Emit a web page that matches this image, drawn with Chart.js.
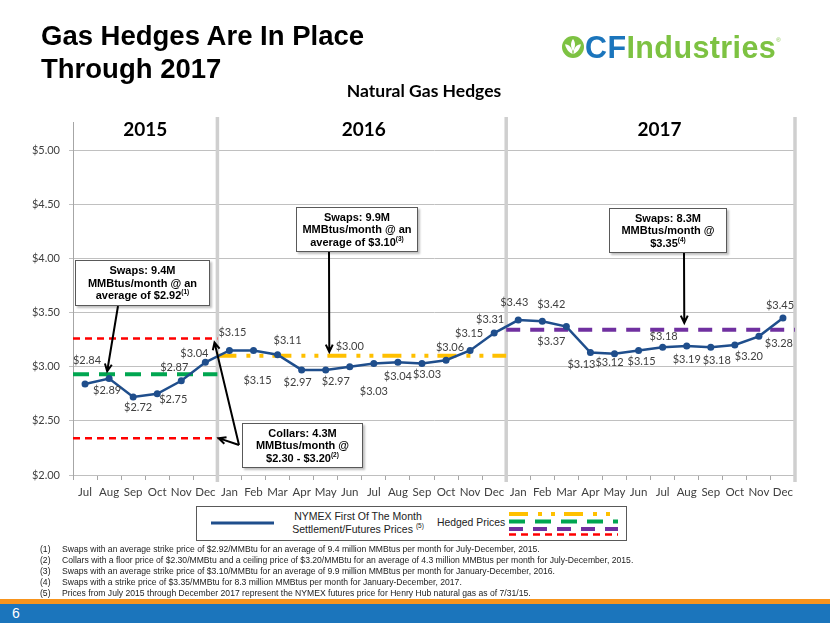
<!DOCTYPE html>
<html>
<head>
<meta charset="utf-8">
<title>Gas Hedges Are In Place Through 2017</title>
<script src="https://cdn.jsdelivr.net/npm/chart.js@4.4.0/dist/chart.umd.min.js"></script>
<style>
html, body { margin: 0; padding: 0; background: #fff; }
#page { position: relative; width: 830px; height: 623px; overflow: hidden; font-family: "Liberation Sans", Arial, sans-serif; }
#chart { position: absolute; left: 0; top: 0; }
.title { position: absolute; left: 41px; top: 19px; font-weight: bold; font-size: 27.5px; line-height: 33px; color: #000; }
#logo { position: absolute; left: 562px; top: 29px; height: 36px; display: flex; align-items: center; font-weight: bold; font-size: 30.5px; letter-spacing: 0.4px; }
#logo svg { margin-right: 1px; }
#logo .cf { color: #1b75bc; }
#logo .ind { color: #7dc242; }
#logo sup { font-size: 6px; color: #7dc242; align-self: flex-start; margin-top: 8px; font-weight: normal; }
.note { position: absolute; background: #fff; border: 1px solid #595959; box-shadow: 2px 2px 2px rgba(0,0,0,0.25); font: bold 11px "Liberation Sans", Arial, sans-serif; line-height: 12.5px; text-align: center; color: #000; display: flex; align-items: center; justify-content: center; box-sizing: border-box; }
.note div { white-space: nowrap; }
.note sup, #legend sup { font-size: 6.5px; line-height: 0; vertical-align: top; position: relative; top: 3px; }
#legend { position: absolute; left: 196px; top: 506px; width: 431px; height: 35px; border: 1px solid #595959; box-sizing: border-box; background: #fff; }
#legend svg { position: absolute; left: 0; top: 0; }
#legend .lg1 { position: absolute; left: 81px; width: 160px; top: 3px; text-align: center; font-size: 10.5px; line-height: 12.5px; color: #222; white-space: nowrap; }
#legend .lg2 { position: absolute; left: 240px; top: 9px; font-size: 10.4px; line-height: 13px; color: #222; white-space: nowrap; }
.fn { position: absolute; left: 40px; font-size: 8.6px; line-height: 10px; color: #222; white-space: nowrap; }
.fn span { position: absolute; left: 22px; }
#orange { position: absolute; left: 0; top: 599px; width: 830px; height: 5px; background: #f7941d; }
#blue { position: absolute; left: 0; top: 604px; width: 830px; height: 19px; background: #1b75bc; }
#pageno { position: absolute; left: 12px; top: 605px; color: #fff; font-size: 14px; line-height: 17px; }
</style>
</head>
<body>
<div id="page">
  <canvas id="chart" width="830" height="623"></canvas>

  <div class="title">Gas Hedges Are In Place<br>Through 2017</div>

  <div id="logo">
    <svg width="22" height="22" viewBox="0 0 20 20">
      <circle cx="10" cy="10" r="10" fill="#7dc242"/>
      <path d="M10 2.8 C12.4 6 12.4 10 10 13.8 C7.6 10 7.6 6 10 2.8Z" fill="#fff"/>
      <path d="M2.8 7.6 C6.8 7.8 9.4 11 10 16.5 C6.4 15.4 3.8 12.4 2.8 7.6Z" fill="#fff"/>
      <path d="M17.2 7.6 C13.2 7.8 10.6 11 10 16.5 C13.6 15.4 16.2 12.4 17.2 7.6Z" fill="#fff"/>
      <path d="M10 13.8 L10 18" stroke="#7dc242" stroke-width="0.8"/>
    </svg>
    <span class="cf">CF</span><span class="ind">Industries</span><sup>®</sup>
  </div>

  <div class="note" style="left:75px; top:260px; width:135px; height:46px;"><div>Swaps: 9.4M<br>MMBtus/month @ an<br>average of $2.92<sup>(1)</sup></div></div>
  <div class="note" style="left:296px; top:207px; width:122px; height:45px;"><div>Swaps: 9.9M<br>MMBtus/month @ an<br>average of $3.10<sup>(3)</sup></div></div>
  <div class="note" style="left:609px; top:208px; width:118px; height:45px;"><div>Swaps: 8.3M<br>MMBtus/month @<br>$3.35<sup>(4)</sup></div></div>
  <div class="note" style="left:242px; top:423px; width:121px; height:45px;"><div>Collars: 4.3M<br>MMBtus/month @<br>$2.30 - $3.20<sup>(2)</sup></div></div>

  <div id="legend">
    <svg width="431" height="35">
      <line x1="14" y1="16" x2="77" y2="16" stroke="#1f4e8c" stroke-width="3"/>
      <line x1="312" y1="7" x2="421" y2="7" stroke="#ffc000" stroke-width="4" stroke-dasharray="19 10 4 9 4 9"/>
      <line x1="312" y1="14.5" x2="421" y2="14.5" stroke="#00a650" stroke-width="4" stroke-dasharray="16 10"/>
      <line x1="312" y1="22" x2="421" y2="22" stroke="#7030a0" stroke-width="4" stroke-dasharray="14 10"/>
      <line x1="312" y1="27.5" x2="421" y2="27.5" stroke="#ff0000" stroke-width="2.5" stroke-dasharray="7 5"/>
    </svg>
    <div class="lg1">NYMEX First Of The Month<br>Settlement/Futures Prices <sup>(5)</sup></div>
    <div class="lg2">Hedged Prices</div>
  </div>

  <div class="fn" style="top:544px;">(1)<span>Swaps with an average strike price of $2.92/MMBtu for an average of 9.4 million MMBtus per month for July-December, 2015.</span></div>
  <div class="fn" style="top:555px;">(2)<span>Collars with a floor price of $2.30/MMBtu and a ceiling price of $3.20/MMBtu for an average of 4.3 million MMBtus per month for July-December, 2015.</span></div>
  <div class="fn" style="top:566px;">(3)<span>Swaps with an average strike price of $3.10/MMBtu for an average of 9.9 million MMBtus per month for January-December, 2016.</span></div>
  <div class="fn" style="top:577px;">(4)<span>Swaps with a strike price of $3.35/MMBtu for 8.3 million MMBtus per month for January-December, 2017.</span></div>
  <div class="fn" style="top:588px;">(5)<span>Prices from July 2015 through December 2017 represent the NYMEX futures price for Henry Hub natural gas as of 7/31/15.</span></div>

  <div id="orange"></div>
  <div id="blue"></div>
  <div id="pageno">6</div>
</div>

<script>
// months on the x axis, July 2015 - December 2017
const months = ['Jul', 'Aug', 'Sep', 'Oct', 'Nov', 'Dec',
  'Jan', 'Feb', 'Mar', 'Apr', 'May', 'Jun', 'Jul', 'Aug', 'Sep', 'Oct', 'Nov', 'Dec',
  'Jan', 'Feb', 'Mar', 'Apr', 'May', 'Jun', 'Jul', 'Aug', 'Sep', 'Oct', 'Nov', 'Dec'];
const years = ['2015', '2016', '2017'];
const monthsPerYear = [6, 12, 12];

// NYMEX first of the month settlement / futures prices ($/MMBtu)
const nymexPrices = [2.84, 2.89, 2.72, 2.75, 2.87, 3.04,
  3.15, 3.15, 3.11, 2.97, 2.97, 3.00, 3.03, 3.04, 3.03, 3.06, 3.15, 3.31,
  3.43, 3.42, 3.37, 3.13, 3.12, 3.15, 3.18, 3.19, 3.18, 3.20, 3.28, 3.45];

// hedged price levels, as drawn in the picture
const hedgeNames = ['Swaps 2015', 'Collar ceiling 2015', 'Collar floor 2015', 'Swaps 2016', 'Swaps 2017'];
const hedgeValues = [2.93, 3.26, 2.34, 3.10, 3.34];
const hedgeYear = [0, 0, 0, 1, 2];

const yMin = 2.0, yMax = 5.0, yStep = 0.5;

// ---- styles ----
const lineBlue = '#1f4e8c';
const hedgeColors = ['#00a650', '#ff0000', '#ff0000', '#ffc000', '#7030a0'];
const hedgeWidths = [4, 2.5, 2.5, 4, 4];
const hedgeDashes = [[16, 10], [7, 5], [7, 5], [19, 10, 4, 9, 4, 9], [14, 10]];

// value label offsets from each point (px)
const labelOffsets = [[2, -24], [-2, 12], [5, 10], [16, 6], [-7, -13], [-11, -9],
  [3, -18], [4, 30], [10, -14], [-4, 13], [10, 12], [0, -20], [0, 28], [0, 14], [5, 11], [4, -13], [-1, -17], [-4, -14],
  [-4, -18], [9, -17], [-15, 15], [-9, 12], [-5, 9], [3, 11], [1, -11], [0, 13], [6, 13], [14, 11], [20, 7], [-3, -12]];

// first month index of each year
const yearFirst = monthsPerYear.map((n, i) => monthsPerYear.slice(0, i).reduce((a, b) => a + b, 0));
const yearLabelNudge = [0, 2, 9];

// arrows from the note boxes to the hedge lines
const arrows = [
  { from: [118, 306], x: 0.92, y: hedgeValues[0], dy: -3 },
  { from: [329, 252], x: 10.15, y: hedgeValues[3], dy: -4 },
  { from: [684, 253], x: 24.9, y: hedgeValues[4], dy: -7 },
  { from: [239, 445], x: 5.55, y: hedgeValues[2], dy: 0 },
  { from: [239, 445], x: 5.38, y: hedgeValues[1], dy: 4 }
];

function drawArrow(ctx, x1, y1, x2, y2) {
  const a = Math.atan2(y2 - y1, x2 - x1);
  const h = 8, spread = 0.45;
  ctx.beginPath();
  ctx.moveTo(x1, y1);
  ctx.lineTo(x2, y2);
  ctx.moveTo(x2 - h * Math.cos(a - spread), y2 - h * Math.sin(a - spread));
  ctx.lineTo(x2, y2);
  ctx.lineTo(x2 - h * Math.cos(a + spread), y2 - h * Math.sin(a + spread));
  ctx.stroke();
}

const decorPlugin = {
  id: 'decor',
  beforeDatasetsDraw(chart) {
    const { ctx, chartArea, scales: { x } } = chart;
    ctx.save();
    // year separators
    ctx.strokeStyle = '#cfcfcf';
    ctx.lineWidth = 3.5;
    yearFirst.forEach((f, i) => {
      const px = x.getPixelForValue(f - 0.5 + monthsPerYear[i]);
      ctx.beginPath();
      ctx.moveTo(px, 117);
      ctx.lineTo(px, chartArea.bottom + 7);
      ctx.stroke();
    });
    // left axis continues up past the plot
    ctx.strokeStyle = '#a6a6a6';
    ctx.lineWidth = 1;
    ctx.beginPath();
    ctx.moveTo(chartArea.left + 0.5, 122);
    ctx.lineTo(chartArea.left + 0.5, chartArea.top);
    ctx.stroke();
    ctx.restore();
  },
  afterDatasetsDraw(chart) {
    const { ctx } = chart;
    const meta = chart.getDatasetMeta(0);
    ctx.save();
    ctx.font = '11px Lato';
    ctx.fillStyle = '#404040';
    ctx.textAlign = 'center';
    ctx.textBaseline = 'middle';
    meta.data.forEach((pt, i) => {
      const [dx, dy] = labelOffsets[i];
      ctx.fillText('$' + nymexPrices[i].toFixed(2), pt.x + dx, pt.y + dy);
    });
    ctx.restore();
  },
  afterDraw(chart) {
    const { ctx, scales: { x, y } } = chart;
    ctx.save();
    ctx.fillStyle = '#000';
    ctx.textAlign = 'center';
    ctx.textBaseline = 'middle';
    ctx.font = 'bold 17.5px Lato';
    ctx.fillText('Natural Gas Hedges', 424, 91);
    ctx.font = 'bold 19px Lato';
    years.forEach((yr, i) => {
      const mid = x.getPixelForValue(yearFirst[i] - 0.5 + monthsPerYear[i] / 2);
      ctx.fillText(yr, mid + yearLabelNudge[i], 130);
    });
    ctx.strokeStyle = '#000';
    ctx.lineWidth = 2;
    arrows.forEach(a => {
      drawArrow(ctx, a.from[0], a.from[1], x.getPixelForValue(a.x), y.getPixelForValue(a.y) + a.dy);
    });
    ctx.restore();
  }
};

const datasets = [{
  label: 'NYMEX First Of The Month Settlement/Futures Prices',
  data: nymexPrices.map((v, i) => ({ x: i, y: v })),
  borderColor: lineBlue,
  backgroundColor: lineBlue,
  borderWidth: 2.5,
  pointRadius: 3.5,
  pointBackgroundColor: lineBlue,
  pointBorderWidth: 0,
  tension: 0,
  order: 0
}].concat(hedgeValues.map((v, k) => {
  const start = yearFirst[hedgeYear[k]] - 0.5;
  const end = start + monthsPerYear[hedgeYear[k]];
  return {
    label: hedgeNames[k],
    data: [{ x: start, y: v }, { x: end, y: v }],
    borderColor: hedgeColors[k],
    borderWidth: hedgeWidths[k],
    borderDash: hedgeDashes[k],
    borderCapStyle: 'butt',
    pointRadius: 0,
    clip: false,
    order: 1
  };
}));

new Chart(document.getElementById('chart').getContext('2d'), {
  type: 'line',
  data: { datasets: datasets },
  options: {
    responsive: false,
    animation: false,
    devicePixelRatio: 1,
    layout: { padding: { top: 150, left: 0, right: 35, bottom: 118 } },
    plugins: {
      legend: { display: false },
      tooltip: { enabled: false }
    },
    scales: {
      x: {
        type: 'linear',
        min: -0.5,
        max: months.length - 0.5,
        afterBuildTicks: axis => { axis.ticks = months.map((m, i) => ({ value: i })); },
        afterFit: axis => { axis.height = 30; },
        ticks: {
          autoSkip: false,
          maxRotation: 0,
          padding: 5,
          color: '#404040',
          font: { family: 'Lato', size: 11.5 },
          callback: v => months[v]
        },
        grid: { offset: true, drawOnChartArea: false, drawTicks: true, tickLength: 5, color: '#a6a6a6' },
        border: { color: '#bfbfbf' }
      },
      y: {
        min: yMin,
        max: yMax,
        afterFit: axis => { axis.width = 73; },
        ticks: {
          stepSize: yStep,
          padding: 9,
          color: '#404040',
          font: { family: 'Lato', size: 11 },
          callback: v => '$' + v.toFixed(2)
        },
        grid: { color: '#c0c0c0', tickLength: 4 },
        border: { color: '#a6a6a6' }
      }
    }
  },
  plugins: [decorPlugin]
});
</script>
</body>
</html>
